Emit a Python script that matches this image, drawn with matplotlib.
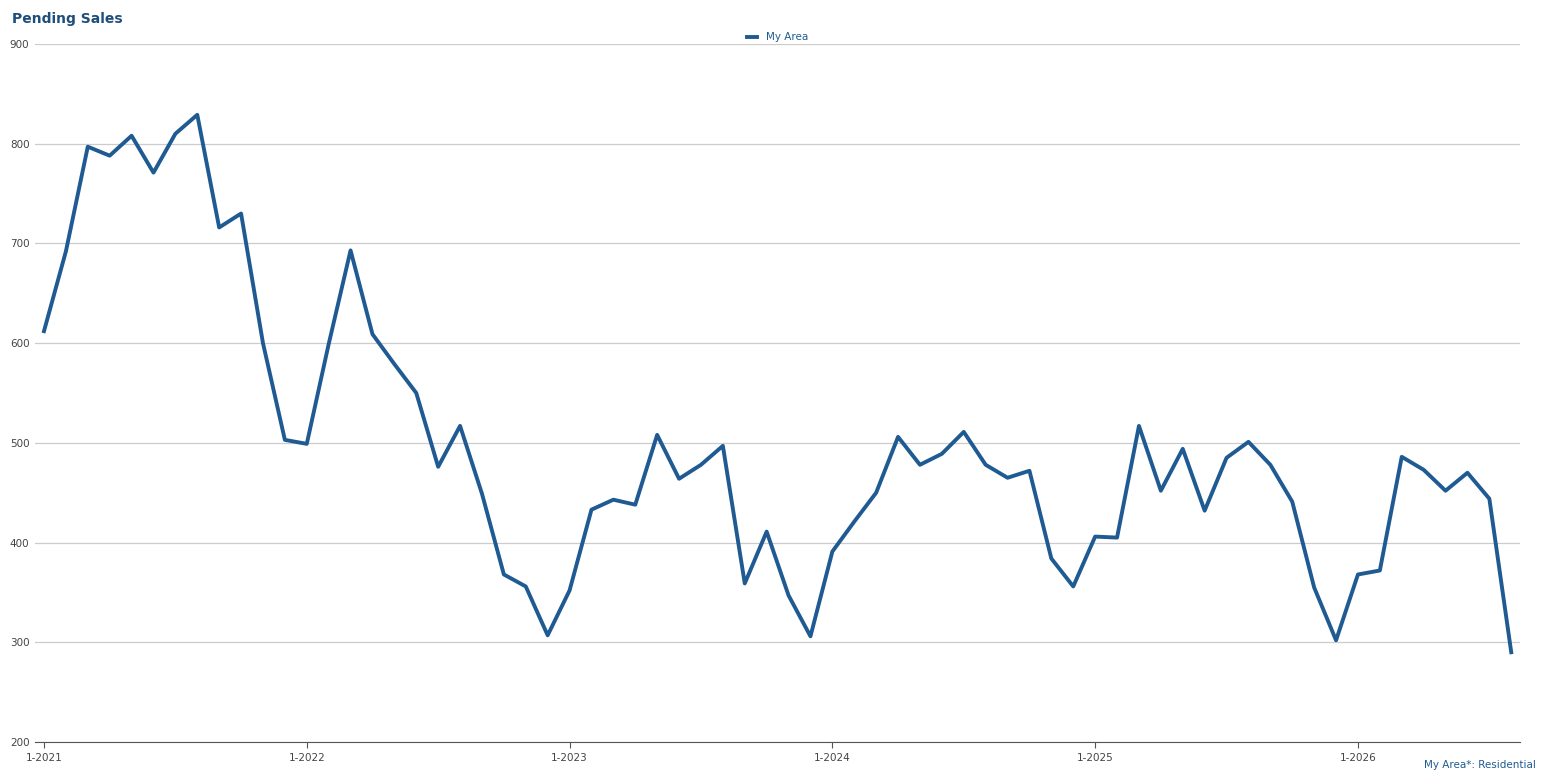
import matplotlib
matplotlib.use("Agg")
import matplotlib.pyplot as plt

values = [612,692,797,788,808,771,810,829,716,730,600,503,
          499,599,693,609,579,550,476,517,449,368,356,307,
          352,433,443,438,508,464,478,497,359,411,347,306,
          391,421,450,506,478,489,511,478,465,472,384,356,
          406,405,517,452,494,432,485,501,478,441,355,302,
          368,372,486,473,452,470,444,290]
tick_labels = ["1-2021","1-2022","1-2023","1-2024","1-2025","1-2026"]
yticks = [200,300,400,500,600,700,800,900]

fig = plt.figure(figsize=(15.48,7.84), dpi=100)
ax = fig.add_axes([35/1548, 1-742/784, (1520-35)/1548, (742-44)/784])
ax.plot(range(len(values)), values, color="#1f5b92", lw=2.8, label="My Area")
ax.set_xlim(-0.41, 67.4)
ax.set_ylim(200, 900)
ax.set_yticks(yticks)
ax.set_yticklabels([str(v) for v in yticks])
ax.set_xticks([12*i for i in range(len(tick_labels))])
ax.set_xticklabels(tick_labels)
ax.grid(axis="y", color="#cccccc", lw=0.9)
ax.set_axisbelow(True)
for s in ["top","right","left"]:
    ax.spines[s].set_visible(False)
ax.spines["bottom"].set_color("#555555")
ax.tick_params(axis="both", labelsize=7.5, colors="#444444", length=0, pad=4)
ax.tick_params(axis="x", length=4, color="#555555")
fig.text(12/1548, 1-19/784, "Pending Sales", fontsize=10, fontweight="bold", color="#1f4e79", va="center")
fig.text(1536/1548, 1-765/784, "My Area*: Residential", fontsize=7.5, color="#1f5b92", ha="right", va="center")
ax.legend(loc="upper center", bbox_to_anchor=(0.5, 1.03), frameon=False, fontsize=7.5,
          handlelength=1, labelcolor="#1f5b92")
fig.savefig("out.png", dpi=100)
